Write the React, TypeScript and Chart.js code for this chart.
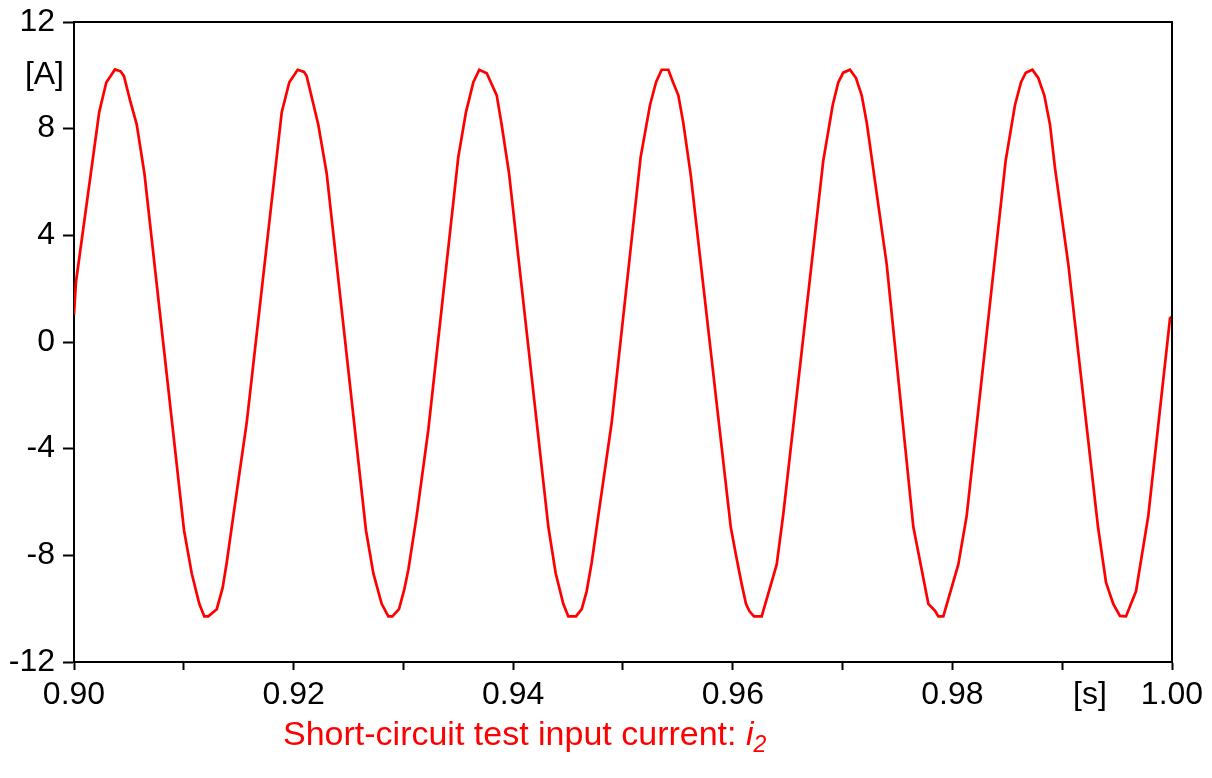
import React, { useEffect, useRef } from "react";
import { Chart, registerables } from "chart.js";

Chart.register(...registerables);

// Time samples [s]
const timeS = [
  0.90000, 0.90018, 0.90230, 0.90294, 0.90373, 0.90424, 0.90455, 0.90510, 0.90571, 0.90642,
  0.91002, 0.91072, 0.91141, 0.91187, 0.91223, 0.91300, 0.91354, 0.91391, 0.91451, 0.91573,
  0.91892, 0.91961, 0.92037, 0.92095, 0.92119, 0.92225, 0.92301, 0.92659, 0.92726, 0.92802,
  0.92863, 0.92899, 0.92960, 0.93008, 0.93045, 0.93121, 0.93227, 0.93500, 0.93570, 0.93637,
  0.93691, 0.93759, 0.93850, 0.93895, 0.93962, 0.94320, 0.94387, 0.94456, 0.94502, 0.94572,
  0.94624, 0.94669, 0.94715, 0.94775, 0.94897, 0.95161, 0.95246, 0.95301, 0.95352, 0.95413,
  0.95453, 0.95504, 0.95549, 0.95617, 0.95981, 0.96029, 0.96081, 0.96120, 0.96152, 0.96193,
  0.96263, 0.96400, 0.96460, 0.96824, 0.96910, 0.96961, 0.97006, 0.97067, 0.97122, 0.97174,
  0.97220, 0.97402, 0.97644, 0.97781, 0.97842, 0.97872, 0.97917, 0.98054, 0.98130, 0.98485,
  0.98570, 0.98625, 0.98668, 0.98728, 0.98782, 0.98837, 0.98889, 0.98934, 0.99056, 0.99326,
  0.99399, 0.99465, 0.99526, 0.99581, 0.99672, 0.99784, 0.99982, 1.00000,
];

// Input current i2 [A]
const currentA = [
  1.02, 2.25, 8.63, 9.73, 10.22, 10.15, 9.97, 9.07, 8.16, 6.30,
  -7.06, -8.67, -9.82, -10.29, -10.29, -10.02, -9.21, -8.27, -6.52, -3.02,
  8.62, 9.74, 10.21, 10.13, 9.97, 8.15, 6.33, -7.06, -8.67, -9.82,
  -10.29, -10.29, -10.02, -9.28, -8.54, -6.52, -3.29, 6.94, 8.62, 9.74,
  10.21, 10.08, 9.25, 8.15, 6.33, -6.93, -8.67, -9.82, -10.29, -10.29,
  -10.02, -9.35, -8.27, -6.52, -3.02, 6.94, 8.89, 9.74, 10.21, 10.21,
  9.77, 9.25, 8.22, 6.26, -6.93, -8.00, -9.08, -9.82, -10.10, -10.29,
  -10.29, -8.34, -6.45, 6.80, 8.89, 9.74, 10.10, 10.21, 9.90, 9.25,
  8.22, 2.90, -6.93, -9.82, -10.08, -10.29, -10.29, -8.34, -6.52, 6.80,
  8.89, 9.74, 10.10, 10.21, 9.90, 9.25, 8.15, 6.54, 2.90, -6.93,
  -9.02, -9.82, -10.27, -10.29, -9.35, -6.52, 0.89, 0.95,
];

const xMin = 0.9;
const xMax = 1.0;
const xStep = 0.01;
const yMin = -12;
const yMax = 12;
const yStep = 4;
const yUnitLabel = "[A]";
const yUnitAt = 10;
const xUnitLabel = "[s]";
const titleMain = "Short-circuit test input current: ";
const titleVar = "i";
const titleSub = "2";

const FONT = '"Liberation Sans", Arial, Helvetica, sans-serif';
const TICK_SIZE = 32;

export default function App() {
  const ref = useRef<HTMLCanvasElement | null>(null);

  useEffect(() => {
    if (!ref.current) return;
    const points = timeS.map((t, i) => ({ x: t, y: currentA[i] }));

    const overlay = {
      id: "overlay",
      afterDraw(chart: any) {
        const { ctx, chartArea, scales } = chart;
        const { top, right, bottom, left } = chartArea;
        ctx.save();
        ctx.strokeStyle = "#000";
        ctx.lineWidth = 2;
        ctx.beginPath();
        ctx.moveTo(left, top);
        ctx.lineTo(right, top);
        ctx.lineTo(right, bottom);
        ctx.stroke();

        ctx.fillStyle = "#000";
        ctx.font = `${TICK_SIZE}px ${FONT}`;
        ctx.textAlign = "right";
        ctx.textBaseline = "middle";
        ctx.fillText(yUnitLabel, 64, scales.y.getPixelForValue(yUnitAt));

        ctx.textAlign = "center";
        ctx.textBaseline = "alphabetic";
        ctx.fillText(xUnitLabel, 1090, 704);

        // title
        ctx.fillStyle = "#ff0000";
        ctx.textAlign = "left";
        ctx.font = `34px ${FONT}`;
        let x = 283;
        const base = 745;
        ctx.fillText(titleMain, x, base);
        x += ctx.measureText(titleMain).width;
        ctx.font = `italic 34px ${FONT}`;
        ctx.fillText(titleVar, x, base);
        x += ctx.measureText(titleVar).width;
        ctx.font = `italic 23px ${FONT}`;
        ctx.fillText(titleSub, x, base + 7);
        ctx.restore();
      },
    };

    const chart = new Chart(ref.current, {
      type: "scatter",
      data: {
        datasets: [
          {
            data: points,
            showLine: true,
            borderColor: "#ff0000",
            borderWidth: 2.7,
            pointRadius: 0,
            tension: 0,
            fill: false,
          },
        ],
      },
      options: {
        responsive: false,
        animation: false,
        events: [],
        layout: { padding: { top: 22, right: 40, left: 0, bottom: 0 } },
        plugins: {
          legend: { display: false },
          tooltip: { enabled: false },
          title: { display: false },
        },
        scales: {
          x: {
            type: "linear",
            min: xMin,
            max: xMax,
            afterFit(scale: any) {
              scale.height = 116;
              scale.paddingLeft = 0;
              scale.paddingRight = 0;
            },
            border: { display: true, color: "#000", width: 2 },
            grid: {
              drawOnChartArea: false,
              drawTicks: true,
              tickLength: 8,
              tickWidth: 2,
              tickColor: "#000",
              color: "#000",
            },
            ticks: {
              stepSize: xStep,
              autoSkip: false,
              maxRotation: 0,
              padding: 6,
              color: "#000",
              font: { size: TICK_SIZE, family: FONT },
              callback(value: any) {
                const k = Math.round(Number(value) * 100);
                if (k % 2 !== 0) return "";
                return (k / 100).toFixed(2);
              },
            },
          },
          y: {
            type: "linear",
            min: yMin,
            max: yMax,
            afterFit(scale: any) {
              scale.width = 74;
              scale.paddingTop = 0;
              scale.paddingBottom = 0;
            },
            border: { display: true, color: "#000", width: 2 },
            grid: {
              drawOnChartArea: false,
              drawTicks: true,
              tickLength: 11,
              tickWidth: 2,
              tickColor: "#000",
              color: "#000",
            },
            ticks: {
              stepSize: yStep,
              padding: 8,
              color: "#000",
              font: { size: TICK_SIZE, family: FONT },
              callback(value: any) {
                return String(Math.round(Number(value)));
              },
            },
          },
        },
      },
      plugins: [overlay],
    });
    return () => chart.destroy();
  }, []);

  return (
    <div style={{ position: "absolute", left: 0, top: 0, width: 1212, height: 778, background: "#fff" }}>
      <canvas ref={ref} width={1212} height={778} style={{ display: "block" }} />
    </div>
  );
}
